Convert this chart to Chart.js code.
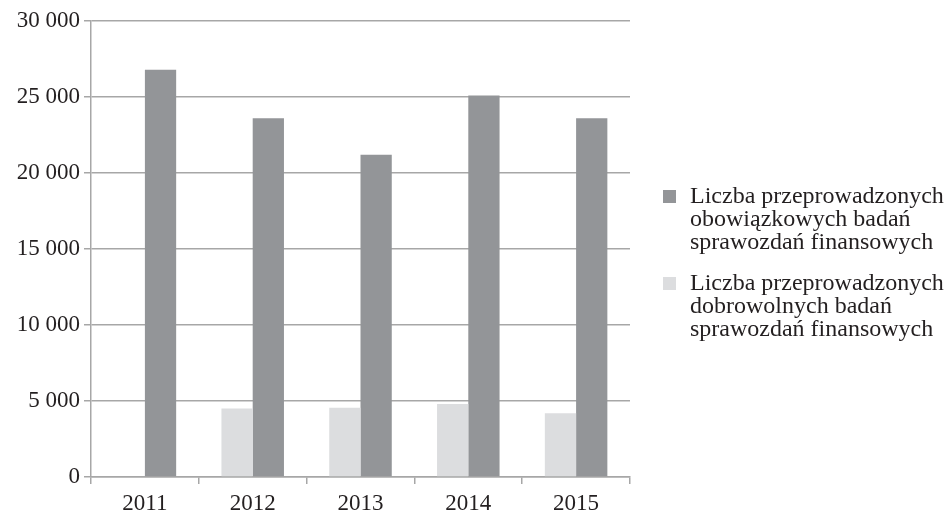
<!DOCTYPE html>
<html>
<head>
<meta charset="utf-8">
<script src="https://cdn.jsdelivr.net/npm/chart.js@4/dist/chart.umd.min.js"></script>
<style>
  html, body { margin: 0; padding: 0; background: #fff; }
  #wrap { position: relative; width: 950px; height: 515px; }
  #legend { position: absolute; left: 663px; top: 184px; font-family: "Liberation Serif", "Times New Roman", serif; font-size: 24px; line-height: 23px; color: #231f20; white-space: nowrap; }
  .item { position: relative; padding-left: 27px; margin-bottom: 18px; }
  .box { position: absolute; left: 0; top: 6px; width: 13px; height: 13px; }
</style>
</head>
<body>
<div id="wrap">
  <canvas id="c" width="950" height="515"></canvas>
  <div id="legend"></div>
</div>
<script>
const categories = ["2011", "2012", "2013", "2014", "2015"];
const obowiazkowe = [26800, 23600, 21200, 25100, 23600];
const dobrowolne = [null, 4500, 4550, 4800, 4200];
const seriesNames = [
  ["Liczba przeprowadzonych", "obowiązkowych badań", "sprawozdań finansowych"],
  ["Liczba przeprowadzonych", "dobrowolnych badań", "sprawozdań finansowych"]
];
const yTicks = [0, 5000, 10000, 15000, 20000, 25000, 30000];

const darkColor = "#939598";
const lightColor = "#dcdddf";
const gridColor = "#a7a7a7";
const font = { family: "'Liberation Serif', 'Times New Roman', serif", size: 23 };

function fmt(v) {
  return String(v).replace(/\B(?=(\d{3})+(?!\d))/g, " ");
}

new Chart(document.getElementById("c"), {
  type: "bar",
  data: {
    labels: categories,
    datasets: [
      { label: seriesNames[1].join(" "), data: dobrowolne, backgroundColor: lightColor },
      { label: seriesNames[0].join(" "), data: obowiazkowe, backgroundColor: darkColor }
    ]
  },
  options: {
    responsive: false,
    animation: false,
    layout: { padding: { left: 0, right: 320, top: 21, bottom: 0 } },
    plugins: { legend: { display: false }, tooltip: { enabled: false } },
    datasets: { bar: { categoryPercentage: 0.58, barPercentage: 1.0 } },
    scales: {
      x: {
        offset: true,
        grid: { offset: true, drawOnChartArea: false, drawTicks: true, tickLength: 7, color: gridColor, lineWidth: 1.5 },
        border: { display: true, color: gridColor, width: 1.5 },
        ticks: { font: font, color: "#231f20", padding: 6 },
        afterFit: s => { s.height = 38; }
      },
      y: {
        min: 0, max: 30000,
        afterBuildTicks: s => { s.ticks = yTicks.map(v => ({ value: v })); },
        grid: { color: gridColor, lineWidth: 1.5, tickLength: 7 },
        border: { display: true, color: gridColor, width: 1.5 },
        ticks: { font: font, color: "#231f20", padding: 4, callback: v => fmt(v) },
        afterFit: s => { s.width = 91; }
      }
    }
  }
});

const legend = document.getElementById("legend");
[[seriesNames[0], darkColor], [seriesNames[1], lightColor]].forEach(([lines, col]) => {
  const d = document.createElement("div");
  d.className = "item";
  d.innerHTML = '<span class="box" style="background:' + col + '"></span>' + lines.join("<br>");
  legend.appendChild(d);
});
</script>
</body>
</html>
